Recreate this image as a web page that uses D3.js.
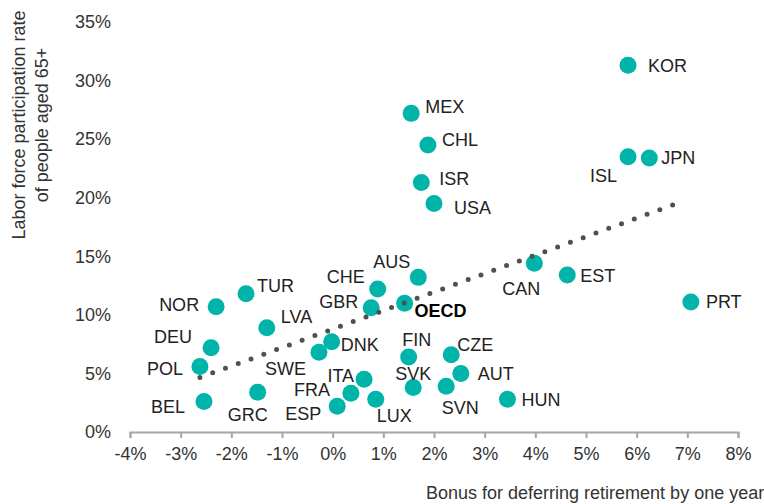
<!DOCTYPE html>
<html lang="en">
<head>
<meta charset="UTF-8">
<title>Bonus for deferring retirement</title>
<script src="https://d3js.org/d3.v7.min.js"></script>
<style>
  body { margin: 0; background: #fff; }
  text { font-family: "Liberation Sans", Arial, Helvetica, sans-serif; }
</style>
</head>
<body>
<div id="chart"></div>
<script>
    var width = 764, height = 504;

    // data
    var countries = ['KOR', 'MEX', 'CHL', 'ISR', 'USA', 'ISL', 'JPN', 'CAN', 'EST', 'PRT',
                     'AUS', 'CHE', 'GBR', 'OECD', 'TUR', 'NOR', 'LVA', 'DEU', 'DNK', 'SWE',
                     'POL', 'BEL', 'GRC', 'ITA', 'FRA', 'ESP', 'LUX', 'FIN', 'SVK', 'CZE',
                     'AUT', 'SVN', 'HUN'];
    // bonus for deferring retirement by one year (%)
    var bonus = [5.83, 1.55, 1.88, 1.75, 2.0, 5.83, 6.25, 3.98, 4.63, 7.07,
                 1.69, 0.89, 0.76, 1.42, -1.71, -2.30, -1.30, -2.40, -0.02, -0.27,
                 -2.62, -2.54, -1.48, 0.62, 0.36, 0.09, 0.85, 1.50, 1.59, 2.34,
                 2.53, 2.24, 3.45];
    // labor force participation rate of people aged 65+ (%)
    var lfpr = [31.3, 27.2, 24.5, 21.3, 19.5, 23.5, 23.4, 14.4, 13.4, 11.1,
                13.2, 12.2, 10.6, 11.0, 11.8, 10.7, 8.9, 7.2, 7.7, 6.8,
                5.6, 2.6, 3.4, 4.5, 3.3, 2.2, 2.8, 6.4, 3.8, 6.6,
                5.0, 3.9, 2.8];
    // linear trend, end points
    var trendX = [-2.62, 6.85];
    var trendY = [4.65, 19.6];

    var xTicks = [-4, -3, -2, -1, 0, 1, 2, 3, 4, 5, 6, 7, 8];
    var yTicks = [0, 5, 10, 15, 20, 25, 30, 35];

    // label placement: [anchor, dx, dy]
    var labelPos = {
        KOR: ['start', 20, 0], MEX: ['start', 14, -7], CHL: ['start', 14, -5],
        ISR: ['start', 18, -4], USA: ['start', 20, 4], ISL: ['end', -11, 19],
        JPN: ['start', 12, 0], CAN: ['end', 6, 25], EST: ['start', 13, 1],
        PRT: ['start', 15, 0], AUS: ['end', -8, -16], CHE: ['end', -13, -12],
        GBR: ['end', -13, -6], OECD: ['start', 10, 8], TUR: ['start', 11, -8],
        NOR: ['end', -17, -2], LVA: ['start', 14, -11], DEU: ['end', -19, -11],
        DNK: ['start', 9, 3], SWE: ['end', -13, 16], POL: ['end', -17, 2],
        BEL: ['end', -19, 5], GRC: ['middle', -10, 23], ITA: ['end', -10, -4],
        FRA: ['end', -21, -4], ESP: ['end', -16, 7], LUX: ['start', 1, 16],
        FIN: ['middle', 8, -17], SVK: ['middle', 0, -14], CZE: ['start', 6, -10],
        AUT: ['start', 17, 0], SVN: ['middle', 14, 21], HUN: ['start', 14, 0]
    };

    var x = d3.scaleLinear().domain([-4, 8]).range([130, 738]);
    var y = d3.scaleLinear().domain([0, 35]).range([432, 22]);

    var svg = d3.select("#chart")
        .append("svg")
        .attr("width", width)
        .attr("height", height);

    // x axis
    var xAxis = svg.append("g")
        .attr("transform", "translate(0," + y(0) + ")")
        .call(d3.axisBottom(x).tickValues(xTicks).tickSize(6).tickPadding(9)
              .tickFormat(function(d) { return d + "%"; }));
    xAxis.select(".domain").attr("stroke", "#a6a6a6").attr("stroke-width", 2);
    xAxis.selectAll(".tick line").attr("stroke", "#a6a6a6").attr("stroke-width", 2);
    xAxis.selectAll(".tick text").attr("font-size", "18px").attr("fill", "#333")
        .attr("font-family", '"Liberation Sans", Arial, sans-serif');

    // y axis, labels only
    var yAxis = svg.append("g")
        .attr("transform", "translate(" + (x(-4) - 19) + ",0)")
        .call(d3.axisLeft(y).tickValues(yTicks).tickSize(0).tickPadding(0)
              .tickFormat(function(d) { return d + "%"; }));
    yAxis.select(".domain").remove();
    yAxis.selectAll(".tick text").attr("font-size", "18px").attr("fill", "#333")
        .attr("font-family", '"Liberation Sans", Arial, sans-serif');

    // axis titles
    var yTitle = svg.append("text")
        .attr("transform", "translate(25,125) rotate(-90)")
        .attr("text-anchor", "middle")
        .attr("font-size", "18px")
        .attr("fill", "#333");
    yTitle.append("tspan").attr("x", 0).attr("dy", 0).text("Labor force participation rate");
    yTitle.append("tspan").attr("x", 0).attr("dy", 23).text("of people aged 65+");

    svg.append("text")
        .attr("x", 426).attr("y", 499)
        .attr("font-size", "18px")
        .attr("fill", "#333")
        .text("Bonus for deferring retirement by one year");

    var points = countries.map(function(c, i) {
        return { name: c, bx: bonus[i], ly: lfpr[i] };
    });

    // dots
    svg.append("g").selectAll("circle")
        .data(points)
        .enter()
        .append("circle")
        .attr("cx", function(d) { return x(d.bx); })
        .attr("cy", function(d) { return y(d.ly); })
        .attr("r", 8.5)
        .attr("fill", "#00b4aa");

    // labels
    svg.append("g").selectAll("text")
        .data(points)
        .enter()
        .append("text")
        .attr("x", function(d) { return x(d.bx) + labelPos[d.name][1]; })
        .attr("y", function(d) { return y(d.ly) + labelPos[d.name][2]; })
        .attr("dy", "0.35em")
        .attr("text-anchor", function(d) { return labelPos[d.name][0]; })
        .attr("font-size", "18px")
        .attr("font-weight", function(d) { return d.name == 'OECD' ? 'bold' : 'normal'; })
        .attr("fill", function(d) { return d.name == 'OECD' ? '#000' : '#222'; })
        .text(function(d) { return d.name; });

    // dotted trend line, drawn on top of the dots
    var trend = trendX.map(function(v, i) { return [x(v), y(trendY[i])]; });
    svg.append("path")
        .attr("d", d3.line()(trend))
        .attr("fill", "none")
        .attr("stroke", "#505050")
        .attr("stroke-width", 5)
        .attr("stroke-linecap", "round")
        .attr("stroke-dasharray", "0,13.6");
</script>
</body>
</html>
